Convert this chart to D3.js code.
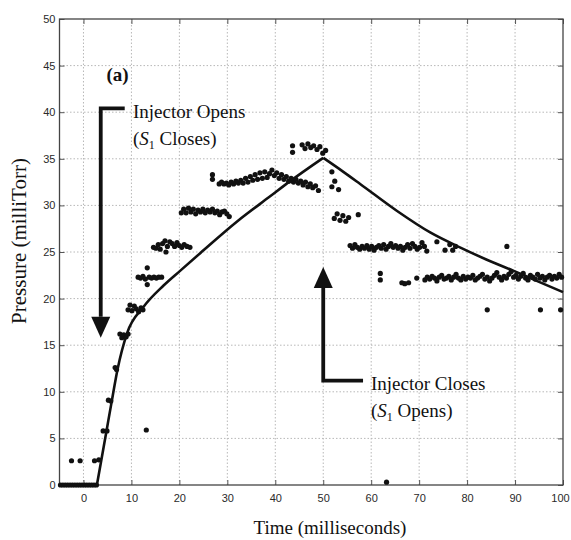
<!DOCTYPE html>
<html>
<head>
<meta charset="utf-8">
<script src="https://cdn.jsdelivr.net/npm/d3@7"></script>
<style>
  body { margin: 0; background: #fff; }
  svg { display: block; }
</style>
</head>
<body>
<svg id="chart" width="571" height="540"></svg>
<script>
// Axis ticks
const xTicks = [0, 10, 20, 30, 40, 50, 60, 70, 80, 90, 100];
const yTicks = [0, 5, 10, 15, 20, 25, 30, 35, 40, 45, 50];

// Measured pressure samples, [time ms, pressure mTorr]
const preInjection = [
  [-4.8,0],[-4.3,0],[-3.8,0],[-3.3,0],[-2.8,0],[-2.3,0],[-1.8,0],[-1.3,0],
  [-0.8,0],[-0.3,0],[0.2,0],[0.7,0],[1.2,0],[1.7,0],[2.2,0],[2.7,0],
  [-2.5,2.6],[-0.7,2.6]
];
const fillSteps = [
  [2.3,2.6],[3.2,2.7],[4.1,5.8],[4.9,5.8],[5.2,9.1],[5.7,9.0],[6.6,12.6],[6.9,12.4],
  [7.6,16.2],[8.0,15.8],[8.4,16.1],[8.9,15.9],[9.3,16.2],
  [9.3,18.8],[9.7,19.3],[10.1,18.7],[10.6,19.2],[11.0,18.9],[11.5,18.6],[12.0,19.0],[12.4,18.8],
  [11.4,22.3],[11.9,22.2],[12.4,22.4],[12.9,22.1],[13.3,23.3],[13.3,21.5],[13.7,22.3],
  [14.2,22.2],[14.7,22.3],[15.2,22.2],[15.7,22.3],[16.3,22.3],
  [13.1,5.9]
];
const fillPlateaus = [
  [14.6,25.5],[15.1,25.4],[15.6,25.8],[16.0,25.3],[16.5,25.9],[17.0,26.2],[17.2,25.0],[17.5,25.6],
  [18.0,26.1],[18.5,25.9],[19.0,25.6],[19.5,26.0],[20.0,25.7],[20.5,25.5],[21.0,25.8],[21.6,25.6],[22.2,25.5],
  [20.4,29.2],[20.9,29.6],[21.4,29.2],[21.9,29.7],[22.4,29.3],[22.9,29.6],[23.4,29.1],[23.9,29.5],
  [24.4,29.3],[24.9,29.6],[25.4,29.2],[25.9,29.5],[26.4,29.3],[26.9,29.6],[27.4,29.2],[27.9,29.4],
  [28.4,29.0],[28.9,29.3],[29.4,29.4],[29.9,29.1],[30.4,28.8],
  [26.9,33.3],[26.9,32.8],[28.3,32.3],[28.8,32.5],[29.3,32.3],[29.8,32.4],[30.3,32.2],[30.8,32.5],
  [31.3,32.3],[31.8,32.6],[32.3,32.4],[32.8,32.7],[33.3,32.4],[33.8,32.9],[34.3,32.5],[34.8,33.1],
  [35.3,32.7],[35.8,33.3],[36.3,32.8],[36.8,33.5],[37.3,32.9],[37.8,33.6],[38.3,33.0],[38.8,33.4],
  [39.3,33.8],[39.8,33.2],[40.3,33.5],[40.8,32.9],[41.3,33.3],[41.8,32.8],[42.3,33.1],[42.8,32.6],
  [43.3,32.9],[43.8,32.5],[44.3,32.8],[44.8,32.4],[45.3,32.6],[45.8,32.2],[46.3,32.5],[46.8,32.0],
  [47.3,32.3],[47.8,31.9],[48.4,32.1],[49.0,31.6],
  [43.6,36.4],[43.6,35.7],[45.6,36.5],[46.2,36.1],[46.8,36.6],[47.4,36.2],[48.0,36.4],[48.7,36.0],
  [49.3,36.3],[49.9,35.6],[50.5,35.9]
];
const emptySteps = [
  [51.8,33.6],[51.8,32.0],[52.4,32.6],[53.2,31.7],
  [52.3,28.6],[52.9,29.1],[53.5,28.4],[54.1,28.9],[54.7,28.3],[55.3,28.7],[57.3,29.0],
  [55.6,25.7],[56.1,25.4],[56.6,25.8],[57.1,25.5],[57.6,25.3],[58.1,25.6],[58.6,25.4],[59.1,25.7],
  [59.6,25.3],[60.1,25.6],[60.6,25.2],[61.1,25.5],[61.6,25.7],[62.1,25.4],[62.6,25.8],[63.1,25.3],
  [63.6,25.6],[64.1,25.9],[64.6,25.5],[65.1,25.7],[65.6,25.4],[66.1,25.6],[66.6,25.2],[67.1,25.5],
  [67.6,25.8],[68.1,25.4],[68.6,25.9],[69.1,25.6],[69.6,25.3],[70.1,25.5],[70.6,26.0],[71.1,25.6],[71.6,25.1],
  [73.7,26.1],[75.4,25.2],[76.4,25.8],[77.0,25.2],[77.6,25.6],[88.3,25.6],
  [61.9,22.7],[61.9,22.0],[66.4,21.7],[67.0,21.6],[67.8,21.7],[69.5,22.2]
];
const residualBand = [
  [71.2,22.0],[71.7,22.3],[72.2,22.1],[72.7,22.4],[73.2,22.2],[73.7,21.9],[74.2,22.3],[74.7,22.5],
  [75.2,22.1],[75.7,22.2],[76.2,22.4],[76.7,22.0],[77.2,22.3],[77.7,22.6],[78.2,22.2],[78.7,22.0],
  [79.2,22.4],[79.7,22.1],[80.2,22.3],[80.7,22.2],[81.2,22.5],[81.7,22.0],[82.2,22.2],[82.7,22.4],
  [83.2,22.6],[83.7,22.1],[84.2,22.3],[84.7,21.9],[85.2,22.2],[85.7,22.5],[86.2,22.8],[86.7,22.3],
  [87.2,22.0],[87.7,22.4],[88.2,22.2],[88.7,22.6],[89.2,22.9],[89.7,22.3],[90.2,22.5],[90.7,22.1],
  [91.2,22.4],[91.7,22.7],[92.2,22.2],[92.7,22.0],[93.2,22.5],[93.7,22.3],[94.2,22.1],[94.7,22.6],
  [95.2,22.2],[95.7,22.4],[96.2,22.0],[96.7,22.3],[97.2,22.5],[97.7,22.1],[98.2,22.4],[98.7,22.2],
  [99.2,22.6],[99.7,22.3],
  [84.2,18.8],[95.3,18.8],[99.5,18.8],[63.2,0.3]
];

// Model pressure curve pieces, [time ms, pressure mTorr]
const modelIdle = [[-5,0],[2.8,0]];
const modelRise = [
  [2.8,0],[4.8,5.8],[5.9,9.0],[7.1,12.4],[9.1,16.3],[12.5,19.1],[16.7,21.4],[20.2,23.0],
  [24.4,24.9],[32.1,28.3],[39,31.0],[43.1,32.6],[50,35.1]
];
const modelDecay = [
  [50,35.1],[54.2,33.6],[57.7,32.3],[65.4,29.4],[72.3,27.1],[78.5,25.5],[84,24.2],
  [89.6,23.0],[95,21.8],[100,20.7]
];

const svg = d3.select("#chart");
const x = d3.scaleLinear().domain([-5, 100]).range([59.5, 563]);
const y = d3.scaleLinear().domain([0, 50]).range([485, 19]);

// Dotted grid
const grid = svg.append("g").attr("stroke", "#b8b8b8").attr("stroke-width", 1)
  .attr("stroke-dasharray", "1.5,2");
grid.selectAll("line.v").data(xTicks.filter(t => t < 100)).join("line")
  .attr("x1", d => x(d)).attr("x2", d => x(d)).attr("y1", y(0)).attr("y2", y(50));
grid.selectAll("line.h").data(yTicks.filter(t => t > 0 && t < 50)).join("line")
  .attr("x1", x(-5)).attr("x2", x(100)).attr("y1", d => y(d)).attr("y2", d => y(d));

// Axes with inward ticks
const tickFont = g => g.selectAll("text")
  .attr("font-family", "'Liberation Sans', Arial, sans-serif")
  .attr("font-size", 11).attr("fill", "#2a2a2a");
const axL = svg.append("g").attr("transform", `translate(${x(-5)},0)`)
  .call(d3.axisLeft(y).tickValues(yTicks).tickSizeInner(-5).tickSizeOuter(0).tickPadding(4))
  .call(tickFont);
const axB = svg.append("g").attr("transform", `translate(0,${y(0)})`)
  .call(d3.axisBottom(x).tickValues(xTicks).tickSizeInner(-5).tickSizeOuter(0).tickPadding(9))
  .call(tickFont);
// keep the last bottom label inside the page edge
axB.selectAll(".tick text").filter(d => d === 100).attr("dx", -3);
const axR = svg.append("g").attr("transform", `translate(${x(100)},0)`)
  .call(d3.axisRight(y).tickValues(yTicks).tickSizeInner(-5).tickSizeOuter(0).tickFormat(""));
const axT = svg.append("g").attr("transform", `translate(0,${y(50)})`)
  .call(d3.axisTop(x).tickValues(xTicks).tickSizeInner(-5).tickSizeOuter(0).tickFormat(""));
[axL, axB, axR, axT].forEach(a => {
  a.select(".domain").remove();
  a.selectAll(".tick line").attr("stroke", "#555");
});

// Frame
svg.append("rect")
  .attr("x", x(-5)).attr("y", y(50))
  .attr("width", x(100) - x(-5)).attr("height", y(0) - y(50))
  .attr("fill", "none").attr("stroke", "#444").attr("stroke-width", 1.3);

// Measured samples
const samples = [].concat(preInjection, fillSteps, fillPlateaus, emptySteps, residualBand);
svg.append("g").selectAll("circle").data(samples).join("circle")
  .attr("cx", d => x(d[0])).attr("cy", d => y(d[1])).attr("r", 2.6)
  .attr("fill", "#111");

// Model curve
const lineLinear = d3.line().x(d => x(d[0])).y(d => y(d[1]));
const lineSmooth = d3.line().x(d => x(d[0])).y(d => y(d[1])).curve(d3.curveMonotoneX);
const model = svg.append("g").attr("fill", "none").attr("stroke", "#111")
  .attr("stroke-width", 2.6).attr("stroke-linejoin", "round");
model.append("path").attr("d", lineLinear(modelIdle));
model.append("path").attr("d", lineSmooth(modelRise));
model.append("path").attr("d", lineSmooth(modelDecay));

// Axis titles
const serif = "'Liberation Serif', 'Times New Roman', serif";
svg.append("text")
  .attr("x", 330).attr("y", 534).attr("text-anchor", "middle")
  .attr("font-family", serif).attr("font-size", 19).attr("fill", "#111")
  .text("Time (milliseconds)");
svg.append("text")
  .attr("transform", "translate(26,241) rotate(-90)").attr("text-anchor", "middle")
  .attr("font-family", serif).attr("font-size", 21).attr("fill", "#111")
  .text("Pressure (milliTorr)");

// Panel label
svg.append("text")
  .attr("x", x(0) + 23).attr("y", 81)
  .attr("font-family", serif).attr("font-size", 19).attr("font-weight", "bold").attr("fill", "#111")
  .text("(a)");

// Annotation arrows
function elbowArrow(xh, yh, xv, yTip, headDir) {
  const g = svg.append("g");
  const headLen = 21, headHalf = 9.5;
  const yBase = yTip - headDir * headLen;
  g.append("path")
    .attr("d", `M${xh},${yh}H${xv}V${yBase}`)
    .attr("fill", "none").attr("stroke", "#111").attr("stroke-width", 3.8);
  g.append("path")
    .attr("d", `M${xv - headHalf},${yBase}L${xv + headHalf},${yBase}L${xv},${yTip}Z`)
    .attr("fill", "#111");
}
elbowArrow(x(8.6), y(40.4), x(3.6), y(15.8), 1);
elbowArrow(x(58.3), y(11.2), x(50), y(23.4), -1);

// Annotation text
function note(px, py, lines) {
  const t = svg.append("text").attr("font-family", serif).attr("font-size", 19).attr("fill", "#111");
  lines.forEach((ln, i) => {
    const row = t.append("tspan").attr("x", px).attr("y", py + i * 27);
    ln.forEach(part => {
      const s = row.append("tspan").text(part.t);
      if (part.i) s.attr("font-style", "italic");
      if (part.sub) s.attr("font-size", 12).attr("dy", 4);
      if (part.after) s.attr("dy", -4);
    });
  });
}
note(133, 118, [
  [{t: "Injector Opens"}],
  [{t: "("}, {t: "S", i: true}, {t: "1", sub: true}, {t: " Closes)", after: true}]
]);
note(371, 390, [
  [{t: "Injector Closes"}],
  [{t: "("}, {t: "S", i: true}, {t: "1", sub: true}, {t: " Opens)", after: true}]
]);
</script>
</body>
</html>
